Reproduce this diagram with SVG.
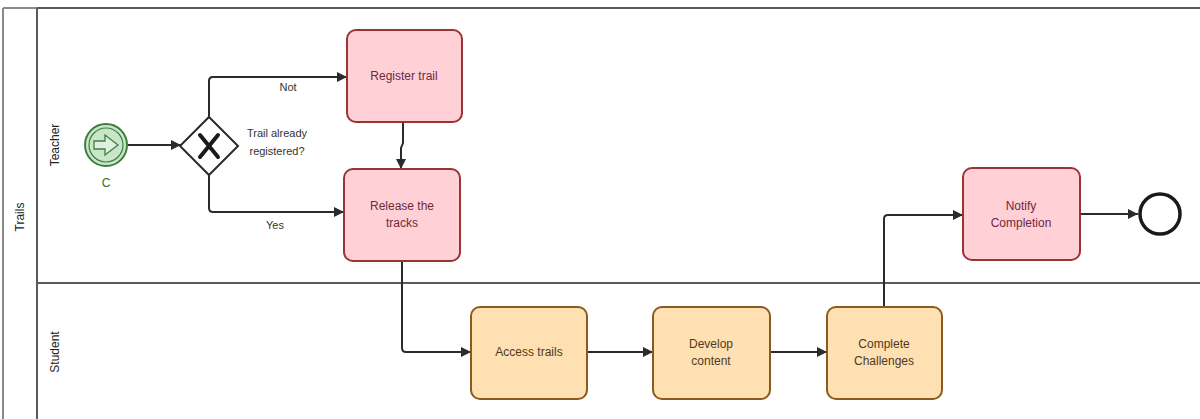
<svg xmlns="http://www.w3.org/2000/svg" width="1200" height="419" viewBox="0 0 1200 419">
<defs>
<style>
text{font-family:"Liberation Sans",Arial,sans-serif;font-size:12px;text-anchor:middle}
.lane{fill:none;stroke:#5a5a5a;stroke-width:2}
.pool{fill:none;stroke:#8a8a8a;stroke-width:2}
.lbl{fill:#222}
.red rect{fill:#ffd0d6;stroke:#9a3434;stroke-width:2}
.red text{fill:#6e2a3c}
.org rect{fill:#ffe0b2;stroke:#8a5a1e;stroke-width:2}
.org text{fill:#4f3a1c}
.flow{fill:none;stroke:#2b2b2b;stroke-width:2;marker-end:url(#arr)}
.flbl{fill:#333;font-size:11px}
</style>
<marker id="arr" viewBox="0 0 10 10" refX="10" refY="5" markerWidth="11" markerHeight="10" markerUnits="userSpaceOnUse" orient="auto">
<path d="M0,0 L10,5 L0,10 z" fill="#2b2b2b"/>
</marker>
</defs>
<rect width="1200" height="419" fill="#fff"/>
<g id="pool">
<line class="pool" x1="3" y1="8" x2="3" y2="419"/>
<line class="pool" x1="3" y1="8" x2="37" y2="8"/>
<line class="lane" x1="37" y1="8" x2="1200" y2="8"/>
<line class="lane" x1="37" y1="8" x2="37" y2="419"/>
<line class="lane" x1="37" y1="283" x2="1200" y2="283"/>
<text class="lbl" transform="translate(24,217) rotate(-90)">Trails</text>
<text class="lbl" transform="translate(59,145) rotate(-90)">Teacher</text>
<text class="lbl" transform="translate(59,352) rotate(-90)">Student</text>
</g>
<g id="connectors">
<path class="flow" d="M128,145 H181"/>
<path class="flow" d="M209,117 V81 Q209,77 213,77 H347"/>
<path class="flow" d="M209,175 V208 Q209,212 213,212 H344"/>
<path class="flow" d="M403,122 V143 L401,148 V169"/>
<path class="flow" d="M402,261 V348 Q402,352 406,352 H471"/>
<path class="flow" d="M587,352 H653"/>
<path class="flow" d="M770,352 H827"/>
<path class="flow" d="M884,307 V219 Q884,215 888,215 H963"/>
<path class="flow" d="M1080,214 H1138"/>
<text class="flbl" x="288" y="91">Not</text>
<text class="flbl" x="275" y="229">Yes</text>
</g>
<g id="start">
<circle cx="106" cy="145" r="21" fill="#c9e6c9" stroke="#3f7d3f" stroke-width="2"/>
<circle cx="106" cy="145" r="17" fill="none" stroke="#3f7d3f" stroke-width="1.2"/>
<path d="M94,141 H105 V135 L118,145 L105,155 V149 H94 Z" fill="#dff0df" stroke="#3f7d3f" stroke-width="1.3"/>
<text x="106" y="187" fill="#3a6a2a">C</text>
</g>
<g id="gateway">
<path d="M209,117 L238,146 L209,175 L180,146 Z" fill="#fff" stroke="#2b2b2b" stroke-width="2"/>
<path d="M200,135 L218,157 M218,135 L200,157" stroke="#1a1a1a" stroke-width="4" stroke-linecap="round"/>
<text class="flbl" x="277" y="137">Trail already</text>
<text class="flbl" x="277" y="155">registered?</text>
</g>
<g id="register" class="red">
<rect x="347" y="30" width="115" height="92" rx="9"/>
<text x="404" y="80">Register trail</text>
</g>
<g id="release" class="red">
<rect x="344" y="169" width="116" height="92" rx="9"/>
<text x="402" y="210">Release the</text>
<text x="402" y="227">tracks</text>
</g>
<g id="notify" class="red">
<rect x="963" y="168" width="117" height="92" rx="9"/>
<text x="1021" y="210">Notify</text>
<text x="1021" y="227">Completion</text>
</g>
<g id="end">
<circle cx="1160" cy="214" r="20" fill="#fff" stroke="#1a1a1a" stroke-width="3.5"/>
</g>
<g id="access" class="org">
<rect x="471" y="307" width="116" height="92" rx="9"/>
<text x="529" y="356">Access trails</text>
</g>
<g id="develop" class="org">
<rect x="653" y="307" width="117" height="92" rx="9"/>
<text x="711" y="348">Develop</text>
<text x="711" y="365">content</text>
</g>
<g id="complete" class="org">
<rect x="827" y="307" width="115" height="92" rx="9"/>
<text x="884" y="348">Complete</text>
<text x="884" y="365">Challenges</text>
</g>
</svg>
